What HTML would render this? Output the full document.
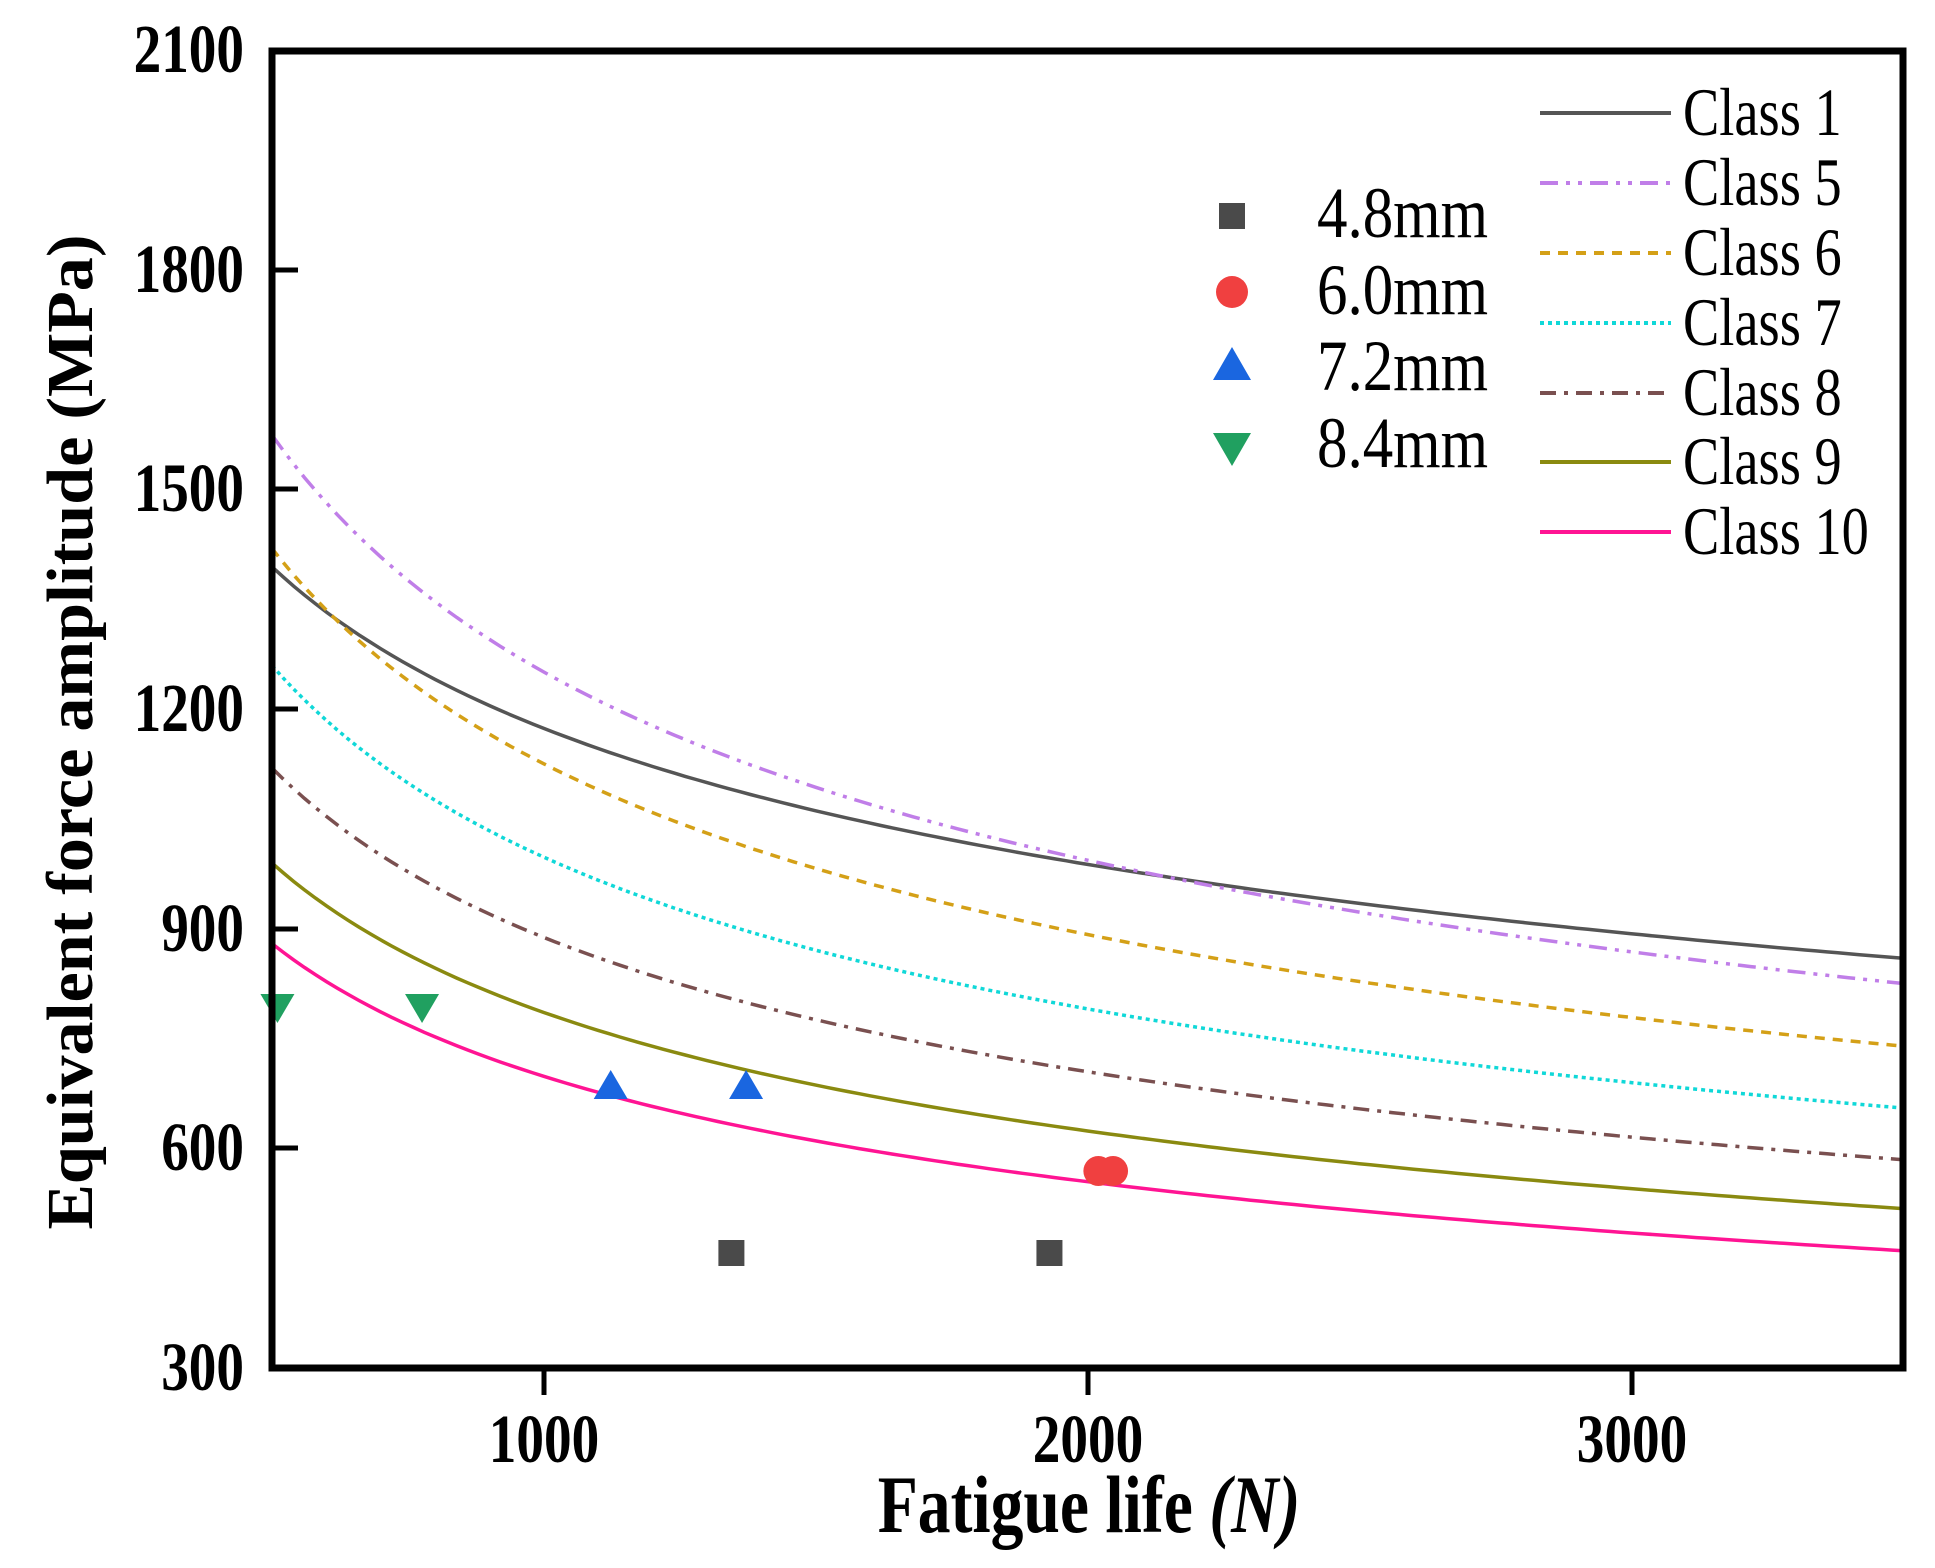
<!DOCTYPE html>
<html><head><meta charset="utf-8"><style>
html,body{margin:0;padding:0;background:#fff;}
svg{display:block;}
text{font-family:"Liberation Serif",serif;}
</style></head><body>
<svg id="s" width="1935" height="1568" viewBox="0 0 1935 1568" xmlns="http://www.w3.org/2000/svg">
<rect width="1935" height="1568" fill="#fff"/>
<g id="curves"></g>
<g id="markers"></g>
<rect x="272" y="51" width="1631" height="1317" fill="none" stroke="#000" stroke-width="7"/>
<g stroke="#000" stroke-width="5">
<line x1="544" y1="1368" x2="544" y2="1395"/>
<line x1="1088" y1="1368" x2="1088" y2="1395"/>
<line x1="1632" y1="1368" x2="1632" y2="1395"/>
<line x1="272" y1="1148" x2="298" y2="1148"/>
<line x1="272" y1="929" x2="298" y2="929"/>
<line x1="272" y1="709" x2="298" y2="709"/>
<line x1="272" y1="489" x2="298" y2="489"/>
<line x1="272" y1="270" x2="298" y2="270"/>
</g>
<g font-weight="bold" font-size="69" text-anchor="end">
<text transform="translate(244,72) scale(0.8,1)">2100</text>
<text transform="translate(244,292) scale(0.8,1)">1800</text>
<text transform="translate(244,511) scale(0.8,1)">1500</text>
<text transform="translate(244,731) scale(0.8,1)">1200</text>
<text transform="translate(244,951) scale(0.8,1)">900</text>
<text transform="translate(244,1170) scale(0.8,1)">600</text>
<text transform="translate(244,1390) scale(0.8,1)">300</text>
</g>
<g font-weight="bold" font-size="69" text-anchor="middle">
<text transform="translate(544,1462) scale(0.8,1)">1000</text>
<text transform="translate(1088,1462) scale(0.8,1)">2000</text>
<text transform="translate(1632,1462) scale(0.8,1)">3000</text>
</g>
<text transform="translate(1089,1532) scale(0.8,1)" font-weight="bold" font-size="82" text-anchor="middle">Fatigue life <tspan font-style="italic">(N)</tspan></text>
<text transform="translate(92,732) rotate(-90)" font-weight="bold" font-size="66" text-anchor="middle" textLength="995" lengthAdjust="spacingAndGlyphs">Equivalent force amplitude (MPa)</text>
<g id="leg" font-size="68"></g>
<g font-size="72">
<rect x="1219" y="203" width="26" height="26" fill="#4a4a4a"/>
<circle cx="1232" cy="292" r="16" fill="#f04040"/>
<polygon points="1232,347 1251,380 1213,380" fill="#1a66e0"/>
<polygon points="1213,433 1251,433 1232,466" fill="#20a060"/>
<text x="1317" y="237" textLength="171" lengthAdjust="spacingAndGlyphs">4.8mm</text>
<text x="1317" y="314" textLength="171" lengthAdjust="spacingAndGlyphs">6.0mm</text>
<text x="1317" y="390" textLength="171" lengthAdjust="spacingAndGlyphs">7.2mm</text>
<text x="1317" y="467" textLength="171" lengthAdjust="spacingAndGlyphs">8.4mm</text>
</g>
</svg>
<script>
var X=function(n){return 272+(n-500)*1631/3000;},Y=function(s){return 1368-(s-300)*1317/1800;};
var series=[
["Class 1",1395,-0.2486,"#555555",""],
["Class 5",1575,-0.332,"#c07ee8","18 8 4 8 4 8"],
["Class 6",1420,-0.335,"#d4a017","10 8"],
["Class 7",1260,-0.336,"#10d8d8","4 4"],
["Class 8",1120,-0.334,"#7a5050","16 8 4 8"],
["Class 9",990,-0.333,"#8a8a10",""],
["Class 10",880,-0.333,"#ff1493",""]];
var ns="http://www.w3.org/2000/svg",g=document.getElementById("curves"),lg=document.getElementById("leg");
var ly=[113,183,253,323,393,462,532];
series.forEach(function(c,i){
 var d="";for(var n=500;n<=3500;n+=20){var s=c[1]*Math.pow(n/500,c[2]);d+=(n==500?"M":"L")+X(n).toFixed(1)+","+Y(s).toFixed(1);}
 var p=document.createElementNS(ns,"path");p.setAttribute("d",d);p.setAttribute("fill","none");p.setAttribute("stroke",c[3]);p.setAttribute("stroke-width","3.5");if(c[4])p.setAttribute("stroke-dasharray",c[4]);g.appendChild(p);
 var l=document.createElementNS(ns,"line");l.setAttribute("x1",1540);l.setAttribute("x2",1671);l.setAttribute("y1",ly[i]);l.setAttribute("y2",ly[i]);l.setAttribute("stroke",c[3]);l.setAttribute("stroke-width","4");if(c[4])l.setAttribute("stroke-dasharray",c[4]);lg.appendChild(l);
 var t=document.createElementNS(ns,"text");t.setAttribute("transform","translate(1683,"+(ly[i]+22)+") scale(0.8,1)");t.textContent=c[0];lg.appendChild(t);
});
var m=document.getElementById("markers");
function add(tag,attrs){var e=document.createElementNS(ns,tag);for(var k in attrs)e.setAttribute(k,attrs[k]);m.appendChild(e);}
[1345,1930].forEach(function(n){var x=X(n);add("rect",{x:x-13,y:1240,width:26,height:26,fill:"#4a4a4a"});});
[2020,2047].forEach(function(n){add("circle",{cx:X(n),cy:1171,r:15,fill:"#f04040"});});
[1123,1372].forEach(function(n){var x=X(n);add("polygon",{points:x+",1070 "+(x+17)+",1099 "+(x-17)+",1099",fill:"#1a66e0"});});
[510,776].forEach(function(n){var x=X(n);add("polygon",{points:(x-17)+",994 "+(x+17)+",994 "+x+",1023",fill:"#20a060"});});
</script>
</body></html>
